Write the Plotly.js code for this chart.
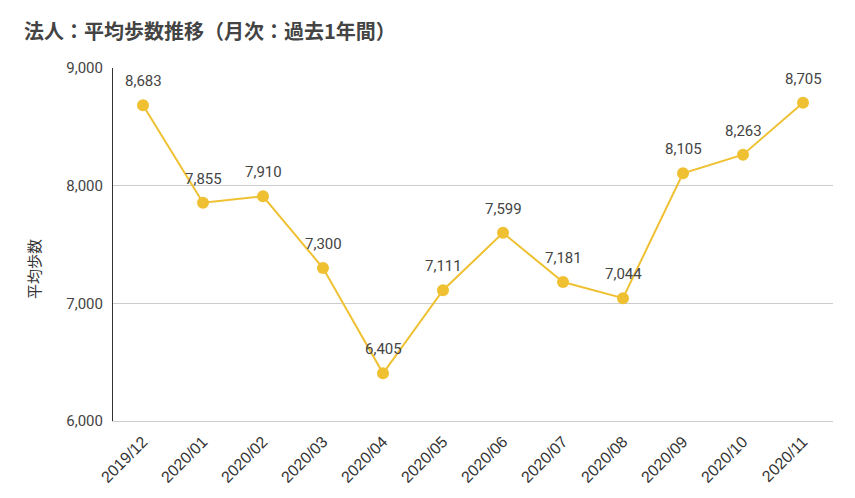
<!DOCTYPE html>
<html><head><meta charset="utf-8">
<script src="https://cdn.plot.ly/plotly-3.0.1.min.js"></script>
<style>html,body{margin:0;padding:0;background:#fff;}</style>
</head><body>
<div id="chart" style="width:855px;height:498px;"></div>
<script>
const months = ["2019/12","2020/01","2020/02","2020/03","2020/04","2020/05","2020/06","2020/07","2020/08","2020/09","2020/10","2020/11"];
const avgSteps = [8683,7855,7910,7300,6405,7111,7599,7181,7044,8105,8263,8705];
const yTicks = [6000,7000,8000,9000];

const font = "Roboto, 'Noto Sans CJK JP', Arial, sans-serif";
const arial = "'Liberation Sans', Arial, sans-serif";
const cjk = "'Noto Sans CJK JP', sans-serif";
const lineColor = "#EFC132";
const fmt = v => v.toLocaleString("en-US");

const trace = {
  x: months, y: avgSteps, type: "scatter", mode: "lines+markers",
  line: {color: lineColor, width: 2},
  marker: {color: lineColor, size: 12},
  cliponaxis: false,
  hoverinfo: "none"
};

const labelAnns = months.map((m, i) => ({
  x: m, y: avgSteps[i], xref: "x", yref: "y", text: fmt(avgSteps[i]),
  showarrow: false, yshift: 24, xanchor: "center", yanchor: "middle",
  font: {family: font, size: 15, color: "#444"}
}));

const layout = {
  width: 855, height: 498,
  margin: {l: 113, r: 22, t: 68, b: 77},
  paper_bgcolor: "#fff", plot_bgcolor: "#fff",
  showlegend: false,
  title: {text: "<b>法人：平均歩数推移（月次：過去1年間）</b>", x: 24/855, xanchor: "left", y: 1 - 32/498, yanchor: "middle",
    font: {family: cjk, size: 20, color: "#444"}},
  xaxis: {type: "category", tickangle: -45, showgrid: false, zeroline: false,
    showline: true, linecolor: "#ccc", linewidth: 1, ticks: "",
    ticklabelstandoff: 4,
    tickfont: {family: arial, size: 16, color: "#333"}, range: [-0.5, 11.5]},
  yaxis: {range: [6000, 9000], tickvals: yTicks, ticktext: yTicks.map(fmt),
    showgrid: true, gridcolor: "#ccc", gridwidth: 1, zeroline: false,
    showline: true, linecolor: "#333", linewidth: 1, ticks: "",
    ticklabelstandoff: 6,
    tickfont: {family: font, size: 15, color: "#444"}},
  annotations: labelAnns.concat([
    {text: "平均歩数", xref: "paper", yref: "paper", x: (33-113)/720, y: 1 - (269-68)/353, textangle: -90,
      showarrow: false, xanchor: "center", yanchor: "middle",
      font: {family: cjk, size: 15, color: "#333"}}
  ])
};

Plotly.newPlot("chart", [trace], layout, {displayModeBar: false, staticPlot: true});
</script>
</body></html>
